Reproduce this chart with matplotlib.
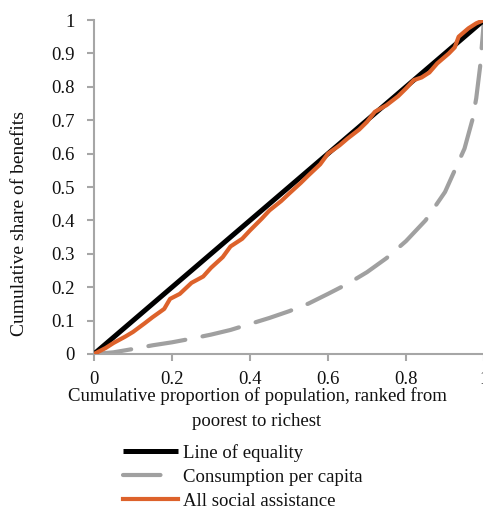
import matplotlib
matplotlib.use("Agg")
import matplotlib.pyplot as plt

plt.rcParams['font.family'] = ['Liberation Serif', 'DejaVu Serif']

equality_x = [0, 1]
equality_y = [0, 1]

cons_x = [0, 0.05, 0.1, 0.15, 0.2, 0.25, 0.3, 0.35, 0.4, 0.45, 0.5, 0.55, 0.6,
          0.65, 0.7, 0.75, 0.8, 0.85, 0.9, 0.95, 0.97, 0.98, 0.99, 1.0]
cons_y = [0, 0.005, 0.015, 0.026, 0.035, 0.046, 0.058, 0.072, 0.09, 0.108, 0.128,
          0.151, 0.18, 0.21, 0.245, 0.287, 0.338, 0.40, 0.485, 0.615, 0.70, 0.765,
          0.86, 1.0]

sa_x = [0, 0.03, 0.05, 0.08, 0.1, 0.13, 0.15, 0.18, 0.195, 0.22, 0.25, 0.28, 0.3,
        0.33, 0.35, 0.38, 0.4, 0.43, 0.45, 0.48, 0.5, 0.53, 0.55, 0.58, 0.6,
        0.63, 0.65, 0.68, 0.7, 0.72, 0.75, 0.78, 0.8, 0.82, 0.84, 0.86, 0.88,
        0.91, 0.925, 0.935, 0.96, 0.98, 1.0]
sa_y = [0, 0.018, 0.033, 0.052, 0.066, 0.092, 0.11, 0.135, 0.165, 0.18, 0.213,
        0.232, 0.258, 0.29, 0.322, 0.345, 0.37, 0.405, 0.43, 0.458, 0.48, 0.512,
        0.535, 0.568, 0.6, 0.625, 0.645, 0.672, 0.695, 0.725, 0.745, 0.772,
        0.795, 0.82, 0.828, 0.843, 0.87, 0.9, 0.918, 0.95, 0.975, 0.99, 1.0]

xticks = [0, 0.2, 0.4, 0.6, 0.8, 1]
xticklabels = ['0', '0.2', '0.4', '0.6', '0.8', '1']
yticks = [0, 0.1, 0.2, 0.3, 0.4, 0.5, 0.6, 0.7, 0.8, 0.9, 1]
yticklabels = ['0', '0.1', '0.2', '0.3', '0.4', '0.5', '0.6', '0.7', '0.8', '0.9', '1']

labels = ['Line of equality', 'Consumption per capita', 'All social assistance']

W, H = 483, 511
fig = plt.figure(figsize=(W / 100, H / 100), dpi=100)
ax = fig.add_axes([94 / W, 1 - 354 / H, 390 / W, 334 / H])

fs = 13.5
tc = '#111111'
l1, = ax.plot(equality_x, equality_y, color='black', lw=3.6, solid_capstyle='butt', label=labels[0], zorder=3)
l2, = ax.plot(cons_x, cons_y, color='#A0A0A0', lw=3.0, dashes=(9, 4.2), dash_capstyle='round', label=labels[1], zorder=2)
l3, = ax.plot(sa_x, sa_y, color='#DD622B', lw=3.0, solid_joinstyle='round', label=labels[2], zorder=4)

ax.set_xlim(0, 1)
ax.set_ylim(0, 1)
ax.set_xticks(xticks)
ax.set_xticklabels(xticklabels)
ax.set_yticks(yticks)
ax.set_yticklabels(yticklabels)
for s in ['top', 'right']:
    ax.spines[s].set_visible(False)
for s in ['left', 'bottom']:
    ax.spines[s].set_color('#A6A6A6')
    ax.spines[s].set_linewidth(1.5)
ax.tick_params(axis='both', direction='out', length=5, width=1.5, color='#A6A6A6',
               labelsize=fs, labelcolor=tc)
ax.tick_params(axis='y', pad=9)
ax.tick_params(axis='x', pad=7)
for lab in ax.get_xticklabels() + ax.get_yticklabels():
    lab.set_clip_on(False)

fig.text(20 / W, 1 - 224 / H, 'Cumulative share of benefits', rotation=90,
         ha='center', va='center', fontsize=14, color=tc)
fig.text(257 / W, 1 - 396 / H, 'Cumulative proportion of population, ranked from',
         ha='center', va='center', fontsize=fs, color=tc)
fig.text(257 / W, 1 - 421 / H, 'poorest to richest',
         ha='center', va='center', fontsize=fs, color=tc)

leg = fig.legend(handles=[l1, l2, l3], labels=labels, loc='upper left',
                 bbox_to_anchor=(123 / W, 1 - 444 / H), frameon=False,
                 fontsize=fs, handlelength=2.95, handletextpad=0.27,
                 labelspacing=0.36, borderpad=0, borderaxespad=0)
for t in leg.get_texts():
    t.set_color(tc)

fig.savefig('out.png', dpi=100)
